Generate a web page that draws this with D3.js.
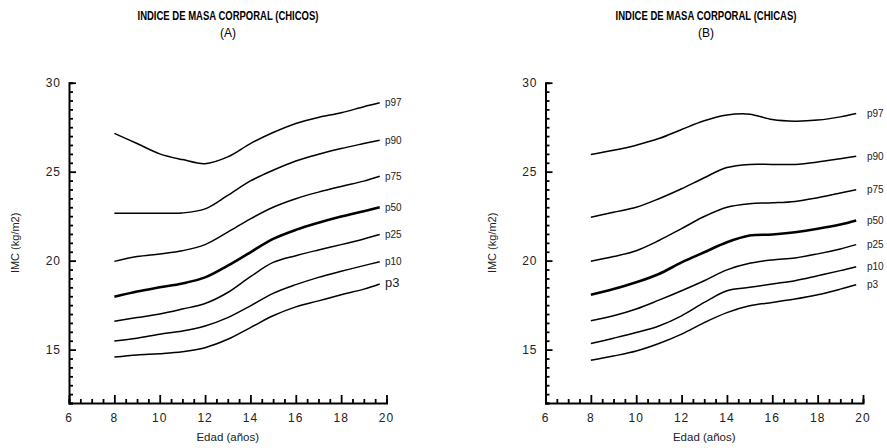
<!DOCTYPE html>
<html lang="es">
<head>
<meta charset="utf-8">
<title>IMC chicos / chicas</title>
<script src="https://cdn.jsdelivr.net/npm/d3@7"></script>
<style>
  body { margin: 0; background: #fff; }
  svg { display: block; font-family: "Liberation Sans", Arial, sans-serif; }
</style>
</head>
<body>
<svg id="chart" width="887" height="448"></svg>

<script>
// edades (años) para cada punto de las curvas
var ages = [8, 9, 10, 11, 12, 13, 14, 15, 16, 17, 18, 19, 19.7];
var percentiles = ["p97", "p90", "p75", "p50", "p25", "p10", "p3"];

// chicos
var boysP97 = [27.15, 26.58, 26.0, 25.68, 25.45, 25.83, 26.58, 27.2, 27.71, 28.05, 28.31, 28.65, 28.87];
var boysP90 = [22.67, 22.67, 22.67, 22.68, 22.91, 23.67, 24.48, 25.08, 25.6, 25.98, 26.3, 26.58, 26.77];
var boysP75 = [19.96, 20.23, 20.38, 20.56, 20.9, 21.6, 22.35, 23.0, 23.48, 23.85, 24.17, 24.47, 24.74];
var boysP50 = [17.97, 18.27, 18.5, 18.72, 19.06, 19.72, 20.47, 21.22, 21.73, 22.13, 22.48, 22.78, 23.0];
var boysP25 = [16.6, 16.8, 17.0, 17.28, 17.59, 18.21, 19.1, 19.9, 20.28, 20.6, 20.9, 21.22, 21.47];
var boysP10 = [15.49, 15.64, 15.87, 16.05, 16.33, 16.8, 17.46, 18.16, 18.65, 19.06, 19.4, 19.72, 19.94];
var boysP3 = [14.58, 14.7, 14.77, 14.88, 15.11, 15.58, 16.24, 16.9, 17.4, 17.74, 18.08, 18.4, 18.69];

// chicas
var girlsP97 = [25.96, 26.2, 26.49, 26.86, 27.37, 27.86, 28.18, 28.23, 27.93, 27.84, 27.9, 28.08, 28.27];
var girlsP90 = [22.44, 22.72, 23.0, 23.48, 24.04, 24.66, 25.23, 25.41, 25.41, 25.41, 25.54, 25.73, 25.87];
var girlsP75 = [19.96, 20.23, 20.56, 21.13, 21.8, 22.48, 23.0, 23.2, 23.25, 23.33, 23.54, 23.8, 23.99];
var girlsP50 = [18.08, 18.4, 18.78, 19.25, 19.9, 20.47, 21.03, 21.41, 21.47, 21.6, 21.79, 22.03, 22.26];
var girlsP25 = [16.62, 16.9, 17.28, 17.78, 18.31, 18.87, 19.48, 19.85, 20.04, 20.15, 20.38, 20.66, 20.9];
var girlsP10 = [15.34, 15.64, 15.96, 16.33, 16.9, 17.65, 18.31, 18.5, 18.69, 18.87, 19.15, 19.44, 19.66];
var girlsP3 = [14.4, 14.64, 14.92, 15.34, 15.87, 16.52, 17.08, 17.46, 17.65, 17.84, 18.08, 18.4, 18.65];

var xTicks = [6, 8, 10, 12, 14, 16, 18, 20];
var yTicks = [15, 20, 25, 30];

var svg = d3.select("#chart");

var plotTop = 82.7, plotBottom = 403;
var y = d3.scaleLinear().domain([12, 30]).range([plotBottom, plotTop]);

var panels = [
  { title: "INDICE DE MASA CORPORAL (CHICOS)", sub: "(A)", x0: 69, x1: 386.5, cx: 228, labelDx: -1.5,
    series: [boysP97, boysP90, boysP75, boysP50, boysP25, boysP10, boysP3], bigP3: true },
  { title: "INDICE DE MASA CORPORAL (CHICAS)", sub: "(B)", x0: 545.5, x1: 863, cx: 706, labelDx: 4,
    series: [girlsP97, girlsP90, girlsP75, girlsP50, girlsP25, girlsP10, girlsP3], bigP3: false }
];

panels.forEach(function(p) {
  var x = d3.scaleLinear().domain([6, 20]).range([p.x0, p.x1]);
  var g = svg.append("g");

  // titulos
  g.append("text")
    .attr("x", p.cx).attr("y", 20)
    .attr("text-anchor", "middle")
    .attr("font-size", 13).attr("font-weight", "bold")
    .attr("textLength", 181).attr("lengthAdjust", "spacingAndGlyphs")
    .text(p.title);
  g.append("text")
    .attr("x", p.cx).attr("y", 37)
    .attr("text-anchor", "middle")
    .attr("font-size", 12)
    .text(p.sub);

  // ejes: ticks hacia dentro, menores cada 0.5
  var xAxis = d3.axisBottom(x)
    .tickValues(d3.range(6, 20.01, 0.5))
    .tickSize(-4).tickPadding(0).tickFormat("");
  var gx = g.append("g").attr("transform", "translate(0," + plotBottom + ")").call(xAxis);
  gx.selectAll(".tick line")
    .filter(function(d) { return xTicks.indexOf(d) >= 0; })
    .attr("y2", -8);

  var yAxis = d3.axisLeft(y)
    .tickValues(d3.range(12, 30.01, 0.5))
    .tickSize(-4).tickPadding(0).tickFormat("");
  var gy = g.append("g").attr("transform", "translate(" + p.x0 + ",0)").call(yAxis);
  gy.selectAll(".tick line")
    .filter(function(d) { return yTicks.indexOf(d) >= 0; })
    .attr("x2", 7);

  [gx, gy].forEach(function(a) {
    a.select(".domain").attr("stroke", "#000").attr("stroke-width", 2);
    a.selectAll(".tick line").attr("stroke", "#000").attr("stroke-width", 1.8);
  });

  // etiquetas de los ticks
  g.selectAll(".xl").data(xTicks).enter().append("text")
    .attr("x", function(d) { return x(d); })
    .attr("y", plotBottom + 19)
    .attr("text-anchor", "middle")
    .attr("font-size", 12).attr("letter-spacing", 1)
    .attr("fill", "#222")
    .text(function(d) { return d; });
  g.selectAll(".yl").data(yTicks).enter().append("text")
    .attr("x", p.x0 - 8)
    .attr("y", function(d) { return y(d) + 4; })
    .attr("text-anchor", "end")
    .attr("font-size", 12).attr("letter-spacing", 1)
    .attr("fill", "#222")
    .text(function(d) { return d; });

  // titulos de ejes
  g.append("text")
    .attr("x", (p.x0 + p.x1) / 2).attr("y", 441)
    .attr("text-anchor", "middle")
    .attr("font-size", 11.5).attr("fill", "#222")
    .text("Edad (años)");
  g.append("text")
    .attr("transform", "translate(" + (p.x0 - 50) + "," + ((plotTop + plotBottom) / 2) + ") rotate(-90)")
    .attr("text-anchor", "middle")
    .attr("font-size", 11).attr("fill", "#222")
    .text("IMC (kg/m2)");

  // curvas de percentiles
  var line = d3.line()
    .x(function(d, i) { return x(ages[i]); })
    .y(function(d) { return y(d); })
    .curve(d3.curveCatmullRom);

  g.selectAll(".curve").data(p.series).enter().append("path")
    .attr("d", line)
    .attr("fill", "none")
    .attr("stroke", "#000")
    .attr("stroke-width", function(d, i) { return percentiles[i] === "p50" ? 2.6 : 1.5; });

  g.selectAll(".plab").data(p.series).enter().append("text")
    .attr("x", x(20) + p.labelDx)
    .attr("y", function(d) { return y(d[d.length - 1]) + 3.5; })
    .attr("font-size", function(d, i) { return (p.bigP3 && percentiles[i] === "p3") ? 13 : 10; })
    .attr("fill", "#222")
    .text(function(d, i) { return percentiles[i]; });
});
</script>
</body>
</html>
